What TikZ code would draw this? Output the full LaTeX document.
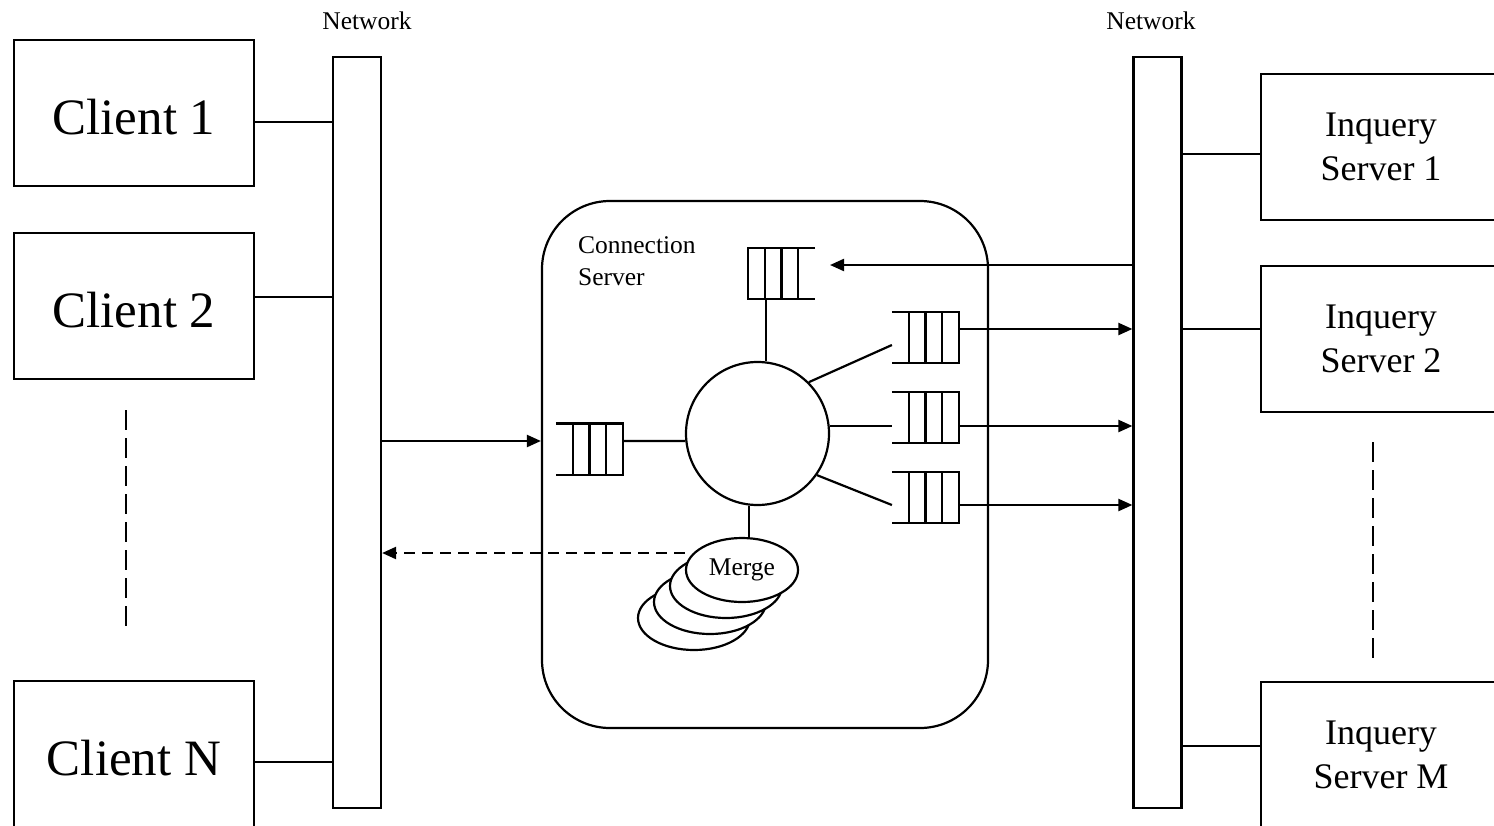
\documentclass[tikz,border=0pt]{standalone}
\usepackage{fontspec}
\setmainfont{Liberation Serif}
\usetikzlibrary{arrows.meta,shapes.geometric,calc}
\begin{document}
\begin{tikzpicture}[x=1pt,y=1pt, line width=2.2pt,
  box/.style={draw, rectangle, minimum width=240pt, minimum height=146pt, inner sep=0pt, align=center},
  bigtxt/.style={font=\fontsize{51}{61}\selectfont, text height=43pt, text depth=0pt},
  srvtxt/.style={font=\fontsize{36}{44}\selectfont},
  smalltxt/.style={font=\fontsize{25.5}{32}\selectfont},
  bar/.style={draw, rectangle, minimum width=48pt, minimum height=751pt, inner sep=0pt},
  queue/.style={rectangle, minimum width=65pt, minimum height=49pt, inner sep=0pt},
  arr/.style={-{Triangle[length=14pt,width=12pt]}},
  vdots/.style={dash pattern=on 20pt off 8pt},
  mrg/.style={draw, ellipse, fill=white, minimum width=112pt, minimum height=64pt, inner sep=0pt},
]
\useasboundingbox (0,0) rectangle (1494,-825);

% clients and servers
\node[box,bigtxt] (c1) at (134,-113) {Client 1};
\node[box,bigtxt] (c2) at (134,-306) {Client 2};
\node[box,bigtxt] (cn) at (134,-754) {Client N};
\node[box,srvtxt] (s1) at (1381,-147) {Inquery\\Server 1};
\node[box,srvtxt] (s2) at (1381,-339) {Inquery\\Server 2};
\node[box,srvtxt] (sm) at (1381,-755) {Inquery\\Server M};

% network bars
\node[bar] (lbar) at (357,-432.5) {};
\node[bar] (rbar) at (1157.5,-432.5) {};
\node[smalltxt, anchor=base, inner sep=0pt] (lnet) at (367,-29) {Network};
\node[smalltxt, anchor=base, inner sep=0pt] (rnet) at (1151,-29) {Network};

% ellipsis dashes
\coordinate (cd1) at (126,-410);
\coordinate (cd2) at (126,-628);
\draw[vdots] (cd1) -- (cd2);
\coordinate (sd1) at (1373,-442);
\coordinate (sd2) at (1373,-658);
\draw[vdots] (sd1) -- (sd2);

% connection server
\node[draw, rectangle, rounded corners=68pt, minimum width=446pt, minimum height=527pt, inner sep=0pt] (cs) at (765,-464.5) {};
\node[smalltxt, anchor=north west, align=left, inner sep=0pt] (cslbl) at (577,-236) {Connection\\Server};

\node[draw, circle, minimum size=143pt, inner sep=0pt] (hub) at (757.5,-433.5) {};

% queues
\node[queue] (qt) at (781.5,-273.5) {};
\node[queue] (ql) at (589.5,-449) {};
\node[queue] (q1) at (925.5,-337.5) {};
\node[queue] (q2) at (925.5,-417.5) {};
\node[queue] (q3) at (925.5,-497.5) {};
\draw (qt.north east) -- (qt.north west) -- (qt.south west) -- (qt.south east);
\foreach \q in {ql,q1,q2,q3} {
  \draw (\q.north west) -- (\q.north east) -- (\q.south east) -- (\q.south west);
}
\foreach \q in {qt,ql,q1,q2,q3} {
  \foreach \f in {0.25,0.5,0.75} {
    \draw ($(\q.north west)!\f!(\q.north east)$) -- ($(\q.south west)!\f!(\q.south east)$);
  }
}

% merge stack
\node[mrg] (m4) at (694,-618) {};
\node[mrg] (m3) at (710,-602) {};
\node[mrg] (m2) at (726,-586) {};
\node[mrg,smalltxt] (merge) at (742,-570) {Merge};

% client / server links
\draw (c1.east |- 0,-122) -- (lbar.west |- 0,-122);
\draw (c2.east |- 0,-297) -- (lbar.west |- 0,-297);
\draw (cn.east |- 0,-762) -- (lbar.west |- 0,-762);
\draw (rbar.east |- 0,-154) -- (s1.west |- 0,-154);
\draw (rbar.east |- 0,-329) -- (s2.west |- 0,-329);
\draw (rbar.east |- 0,-746) -- (sm.west |- 0,-746);

% inside connection server
\draw[arr] (lbar.east |- 0,-441) -- (cs.west |- 0,-441);
\draw (ql.east |- 0,-441) -- (hub.186);
\draw (qt.south -| 766,0) -- (hub.north -| 766,0);
\draw (hub.45) -- (q1.west |- 0,-345);
\draw (hub.6) -- (q2.west |- hub.6);
\draw (hub.-35) -- (q3.west |- 0,-505);
\draw (hub.-97) -- (hub.-97 |- merge.north);

% to and from the right network
\coordinate (qtin) at (830,-265);
\draw[arr] (rbar.west |- 0,-265) -- (qtin);
\draw[arr] (q1.east |- 0,-329) -- (rbar.west |- 0,-329);
\draw[arr] (q2.east |- 0,-426) -- (rbar.west |- 0,-426);
\draw[arr] (q3.east |- 0,-505) -- (rbar.west |- 0,-505);

% results back to the clients
\draw[arr, dash pattern=on 11pt off 7pt] (merge.west |- 0,-553) -- (lbar.east |- 0,-553);
\end{tikzpicture}
\end{document}
